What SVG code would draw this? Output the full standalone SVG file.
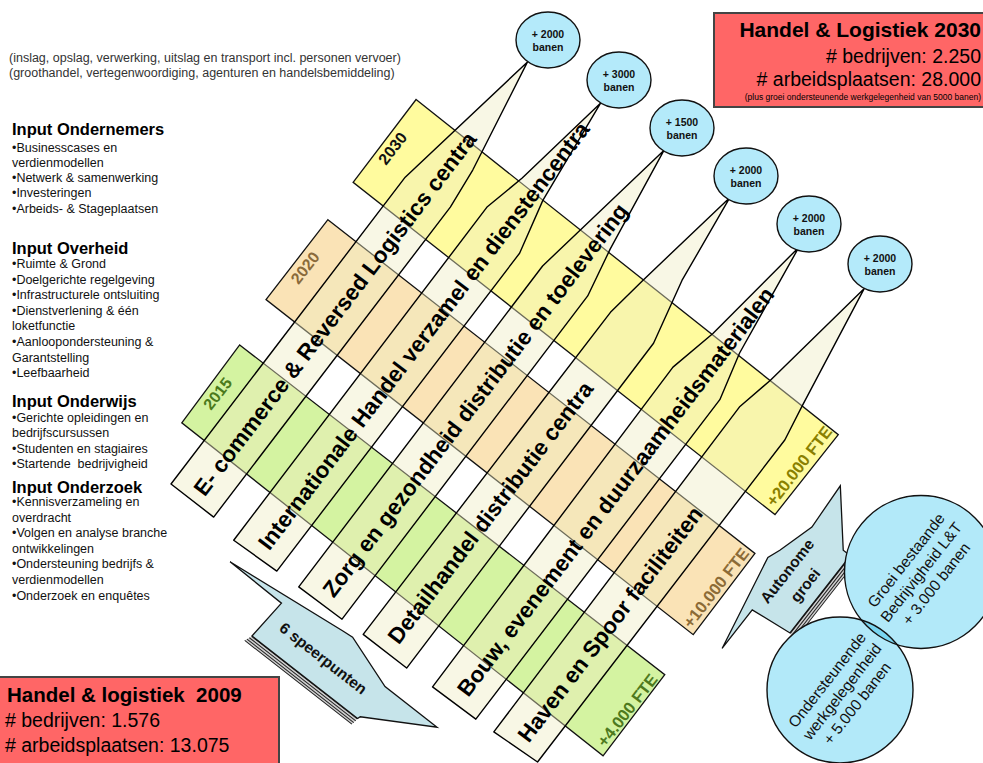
<svg xmlns="http://www.w3.org/2000/svg" width="983" height="763" viewBox="0 0 983 763">
<defs>
<style>
text{font-family:"Liberation Sans",Arial,Helvetica,sans-serif}
.band{stroke:#111;stroke-width:1.3}
.g{fill:#D4F3A1}.o{fill:#FAE3B6}.y{fill:#FFFB9E}
.strip{fill:#EEEBC0;fill-opacity:0.42;stroke:#000;stroke-width:1.4;stroke-linejoin:round}
.sl{font-size:22.5px;font-weight:bold;fill:#000}
.yr{font-size:16px;font-weight:bold;text-anchor:middle}
.fte{font-size:16.5px;font-weight:bold;text-anchor:middle}
.bub{fill:#B4EAFA;stroke:#111;stroke-width:1.4}
.bt{font-size:10.5px;font-weight:bold;text-anchor:middle;fill:#111}
.call{fill:#C6E4EA;stroke:#111;stroke-width:1.3}
.stk{fill:#d0d0d0;stroke:none}
.stl{stroke:#222;stroke-width:1;fill:none}
.ct{font-size:15.5px;font-weight:bold;text-anchor:middle;fill:#111}
.big{fill:#B2E9F9}
.ring{fill:none;stroke:#111;stroke-width:1.4}
.cirt{font-size:15.5px;text-anchor:middle;fill:#111}
.box{fill:#FF6666;stroke:#444;stroke-width:2}
.h{font-size:16.5px;font-weight:bold;fill:#000}
.li{font-size:12.5px;fill:#111}
.top{font-size:12.5px;fill:#333}
</style>
<clipPath id="c1clip"><circle cx="921" cy="572" r="76.5"/></clipPath>
</defs>

<g id="intro">
<text class="top" x="9" y="62">(inslag, opslag, verwerking, uitslag en transport incl. personen vervoer)</text>
<text class="top" x="9" y="77">(groothandel, vertegenwoordiging, agenturen en handelsbemiddeling)</text>
</g>

<g id="input-ondernemers">
<text class="h" x="12" y="135">Input Ondernemers</text>
<text class="li" x="12" y="151.5">•Businesscases en</text>
<text class="li" x="12" y="166.7">verdienmodellen</text>
<text class="li" x="12" y="182">•Netwerk &amp; samenwerking</text>
<text class="li" x="12" y="197">•Investeringen</text>
<text class="li" x="12" y="212.5">•Arbeids- &amp; Stageplaatsen</text>
</g>
<g id="input-overheid">
<text class="h" x="12" y="254">Input Overheid</text>
<text class="li" x="12" y="268">•Ruimte &amp; Grond</text>
<text class="li" x="12" y="283.6">•Doelgerichte regelgeving</text>
<text class="li" x="12" y="299.2">•Infrastructurele ontsluiting</text>
<text class="li" x="12" y="314.8">•Dienstverlening &amp; één</text>
<text class="li" x="12" y="330.4">loketfunctie</text>
<text class="li" x="12" y="346">•Aanloopondersteuning &amp;</text>
<text class="li" x="12" y="361.6">Garantstelling</text>
<text class="li" x="12" y="377.2">•Leefbaarheid</text>
</g>
<g id="input-onderwijs">
<text class="h" x="12" y="407">Input Onderwijs</text>
<text class="li" x="12" y="421.5">•Gerichte opleidingen en</text>
<text class="li" x="12" y="437">bedrijfscursussen</text>
<text class="li" x="12" y="452.6">•Studenten en stagiaires</text>
<text class="li" x="12" y="468.2">•Startende&#160; bedrijvigheid</text>
</g>
<g id="input-onderzoek">
<text class="h" x="12" y="493">Input Onderzoek</text>
<text class="li" x="12" y="506">•Kennisverzameling en</text>
<text class="li" x="12" y="521.6">overdracht</text>
<text class="li" x="12" y="537.2">•Volgen en analyse branche</text>
<text class="li" x="12" y="552.8">ontwikkelingen</text>
<text class="li" x="12" y="568.4">•Ondersteuning bedrijfs &amp;</text>
<text class="li" x="12" y="584">verdienmodellen</text>
<text class="li" x="12" y="599.6">•Onderzoek en enquêtes</text>
</g>

<g id="matrix" transform="translate(171,484) rotate(37.8)">
<g id="band-2015">
<polygon class="band g" points="-31,-152 507,-152 508,-50 -29,-55"/>
<text class="yr" fill="#4B7A1C" transform="translate(-13,-100) rotate(-90)">2015</text>
<text class="fte" fill="#4E7A1E" transform="translate(505,-101) rotate(-90)">+4.000 FTE</text>
</g>
<g id="band-2020">
<polygon class="band o" points="-38,-305 504,-303 505,-201 -38,-204"/>
<text class="yr" fill="#8A6A3A" transform="translate(-21,-253) rotate(-90)">2020</text>
<text class="fte" fill="#8C6B36" transform="translate(500,-252) rotate(-90)">+10.000 FTE</text>
</g>
<g id="band-2030">
<polygon class="band y" points="-42,-454 497,-448 496,-346 -41,-350"/>
<text class="yr" fill="#111" transform="translate(-25,-401) rotate(-90)">2030</text>
<text class="fte" fill="#8A8000" transform="translate(491,-399) rotate(-90)">+20.000 FTE</text>
</g>

<g id="sp-ecommerce">
<polygon class="strip" points="0,0 -3,-386 23,-552 46,-433 51,-390 54,0"/>
<text class="sl" transform="translate(35,-10) rotate(-90.5)">E- commerce &amp; Reversed Logistics centra</text>
</g>
<g id="sp-internationale-handel">
<polygon class="strip" points="84,6 80,-413 90,-457 106,-564 120,-452 134,-396 137,4"/>
<text class="sl" transform="translate(119,-7) rotate(-90.5)">Internationale Handel verzamel en dienstencentra</text>
</g>
<g id="sp-zorg">
<polygon class="strip" points="164,3 160,-400 167,-447 185,-566 203,-455 214,-404 218,2"/>
<text class="sl" transform="translate(199,-9) rotate(-90.5)">Zorg en gezondheid distributie en toelevering</text>
</g>
<g id="sp-detailhandel">
<polygon class="strip" points="244,1 242,-405 248,-450 266,-569 279,-474 295,-407 299,1"/>
<text class="sl" transform="translate(279,-12) rotate(-90.5)">Detailhandel distributie centra</text>
</g>
<g id="sp-bouw">
<polygon class="strip" points="331,0 325,-400 336,-451 351,-572 369,-452 382,-403 385,-1"/>
<text class="sl" transform="translate(366,-13) rotate(-90.5)">Bouw, evenement en duurzaamheidsmaterialen</text>
</g>
<g id="sp-haven">
<polygon class="strip" points="407,-2 402,-410 410,-449 428,-579 451,-448 458,-411 460,-5"/>
<text class="sl" transform="translate(442,-14) rotate(-90.5)">Haven en Spoor faciliteiten</text>
</g>
</g>

<g id="connectors"></g>

<g id="bubble-1"><ellipse class="bub" cx="548" cy="40" rx="32" ry="28"/><text class="bt" x="548" y="37.7">+ 2000</text><text class="bt" x="548" y="50.8">banen</text></g>
<g id="bubble-2"><ellipse class="bub" cx="619" cy="80" rx="32" ry="28"/><text class="bt" x="619" y="77.7">+ 3000</text><text class="bt" x="619" y="90.8">banen</text></g>
<g id="bubble-3"><ellipse class="bub" cx="682" cy="128" rx="32" ry="28"/><text class="bt" x="682" y="125.7">+ 1500</text><text class="bt" x="682" y="138.8">banen</text></g>
<g id="bubble-4"><ellipse class="bub" cx="746" cy="176" rx="32" ry="28"/><text class="bt" x="746" y="173.7">+ 2000</text><text class="bt" x="746" y="186.8">banen</text></g>
<g id="bubble-5"><ellipse class="bub" cx="809" cy="224" rx="32" ry="28"/><text class="bt" x="809" y="221.7">+ 2000</text><text class="bt" x="809" y="234.8">banen</text></g>
<g id="bubble-6"><ellipse class="bub" cx="880" cy="264" rx="32" ry="28"/><text class="bt" x="880" y="261.7">+ 2000</text><text class="bt" x="880" y="274.8">banen</text></g>

<g id="speerpunten" transform="translate(252,636) rotate(38)">
<polygon class="stk" points="0,0 134,0 133,8 -3,8"/>
<path class="stl" d="M0,0.5 L134,0.5 M-1,3 L134,3 M-2,5.6 L133.5,5.6 M-3,8 L133,8"/>
<polygon class="call" points="-63,-45 69,-60 80,-61 136,-42 202,-42 135,-3 134,0 0,0 3,-44"/>
<text class="ct" x="70" y="-21">6 speerpunten</text>
</g>

<g id="autonome-groei" transform="translate(790,633) rotate(-52)">
<polygon class="stk" points="0,0 98,0 97,8 -3,8"/>
<path class="stl" d="M0,0.5 L98,0.5 M-1,3 L98,3 M-2,5.6 L97.5,5.6 M-3,8 L97,8"/>
<polygon class="call" points="-54,-44 46,-64 59,-59 97,-48 147,-51 98,-9 98,0 0,0 -5,-44"/>
<text class="ct" x="47" y="-35">Autonome</text>
<text class="ct" x="47" y="-12">groei</text>
</g>

<g id="circle-bestaand">
<circle class="big" cx="921" cy="572" r="76.5"/>
</g>
<g id="circle-ondersteunend">
<circle class="big" cx="840" cy="690" r="73"/>
<circle cx="840" cy="690" r="73" fill="#79D5F0" clip-path="url(#c1clip)"/>
<circle class="ring" cx="840" cy="690" r="73"/>
<text class="cirt" transform="translate(840,690) rotate(-52)"><tspan x="0" y="-11">Ondersteunende</tspan><tspan x="0" y="8">werkgelegenheid</tspan><tspan x="0" y="27">+ 5.000 banen</tspan></text>
</g>
<g id="circle-bestaand-label">
<circle class="ring" cx="921" cy="572" r="76.5"/>
<text class="cirt" transform="translate(921,572) rotate(-52)"><tspan x="0" y="-13.5">Groei bestaande</tspan><tspan x="0" y="5.5">Bedrijvigheid L&amp;T</tspan><tspan x="0" y="24.5">+ 3.000 banen</tspan></text>
</g>

<g id="box-2030">
<rect class="box" x="714" y="13" width="280" height="94"/>
<text x="981" y="37" text-anchor="end" font-size="21" font-weight="bold">Handel &amp; Logistiek 2030</text>
<text x="981" y="62.5" text-anchor="end" font-size="19.5"># bedrijven: 2.250</text>
<text x="981" y="86" text-anchor="end" font-size="19.5"># arbeidsplaatsen: 28.000</text>
<text x="981" y="99.5" text-anchor="end" font-size="8.5">(plus groei ondersteunende werkgelegenheid van 5000 banen)</text>
</g>

<g id="box-2009">
<rect class="box" x="-2" y="677" width="281" height="92"/>
<text x="7" y="702" font-size="20.5" font-weight="bold">Handel &amp; logistiek&#160; 2009</text>
<text x="5" y="727" font-size="19.5"># bedrijven: 1.576</text>
<text x="5" y="752" font-size="19.5"># arbeidsplaatsen: 13.075</text>
</g>
</svg>
